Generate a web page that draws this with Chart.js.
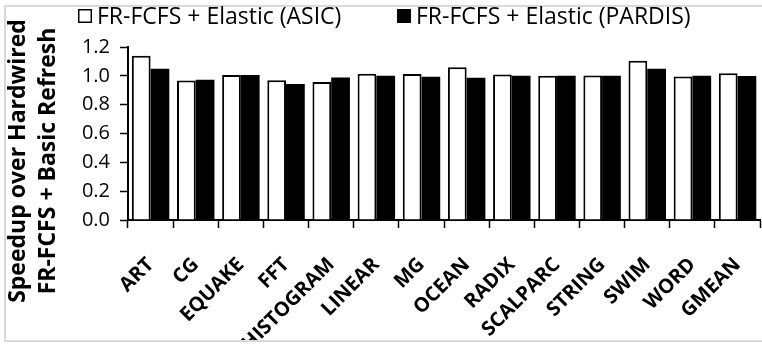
<!DOCTYPE html>
<html>
<head>
<meta charset="utf-8">
<script src="https://cdn.jsdelivr.net/npm/chart.js@4"></script>
<style>
  html, body { margin: 0; padding: 0; background: #fff; overflow: hidden; }
  #wrap { width: 780px; height: 345px; }
</style>
</head>
<body>
<div id="wrap"><canvas id="chart" width="780" height="345"></canvas></div>
<script>
/* ── Data ── */
const categories = ['ART', 'CG', 'EQUAKE', 'FFT', 'HISTOGRAM', 'LINEAR', 'MG', 'OCEAN',
  'RADIX', 'SCALPARC', 'STRING', 'SWIM', 'WORD', 'GMEAN'];
const asicSpeedup   = [1.139, 0.967, 1.005, 0.970, 0.958, 1.014, 1.012, 1.060, 1.009, 1.000, 1.003, 1.104, 0.995, 1.018];
const pardisSpeedup = [1.049, 0.972, 1.005, 0.944, 0.988, 1.000, 0.993, 0.986, 1.000, 1.000, 1.000, 1.049, 1.000, 0.998];
const yTicks = [0, 0.2, 0.4, 0.6, 0.8, 1.0, 1.2];
const seriesNames = ['FR-FCFS + Elastic (ASIC)', 'FR-FCFS + Elastic (PARDIS)'];
const yTitle = ['Speedup over Hardwired', 'FR-FCFS + Basic Refresh'];

const FONT = "'Open Sans', sans-serif";

/* ── Plugins: frame, legend, y-axis title ── */
const framePlugin = {
  id: 'frame',
  beforeDraw(chart) {
    const ctx = chart.ctx;
    ctx.save();
    ctx.fillStyle = '#fff';
    ctx.fillRect(0, 0, chart.width, chart.height);
    ctx.restore();
  },
  afterDraw(chart) {
    // the frame clips whatever hangs below it (long rotated labels)
    const ctx = chart.ctx;
    ctx.save();
    ctx.fillStyle = '#fff';
    ctx.fillRect(0, 341, chart.width, chart.height - 341);
    ctx.strokeStyle = '#d9d9d9';
    ctx.lineWidth = 2;
    ctx.strokeRect(5, 6, chart.width + 10, 335);
    ctx.restore();
  }
};

const legendPlugin = {
  id: 'boxLegend',
  afterDraw(chart) {
    const ctx = chart.ctx;
    const starts = [78, 397];
    ctx.save();
    ctx.font = '23px ' + FONT;
    ctx.textBaseline = 'middle';
    chart.data.datasets.forEach((ds, i) => {
      const x = starts[i];
      ctx.fillStyle = ds.backgroundColor;
      ctx.fillRect(x, 9, 14, 14);
      ctx.strokeStyle = '#000';
      ctx.lineWidth = 1.5;
      ctx.strokeRect(x + 0.75, 9.75, 12.5, 12.5);
      ctx.fillStyle = '#000';
      ctx.fillText(ds.label, x + 19, 17);
    });
    ctx.restore();
  }
};

const yTitlePlugin = {
  id: 'yTitle',
  afterDraw(chart) {
    const ctx = chart.ctx;
    ctx.save();
    ctx.font = 'bold 23px ' + FONT;
    ctx.fillStyle = '#000';
    ctx.textAlign = 'center';
    ctx.textBaseline = 'alphabetic';
    ctx.translate(0, 161);
    ctx.rotate(-Math.PI / 2);
    ctx.fillText(yTitle[0], 0, 25);
    ctx.fillText(yTitle[1], 0, 55);
    ctx.restore();
  }
};

new Chart(document.getElementById('chart'), {
  type: 'bar',
  data: {
    labels: categories,
    datasets: [
      {
        label: seriesNames[0],
        data: asicSpeedup,
        backgroundColor: '#ffffff',
        borderColor: '#000000',
        borderWidth: 2,
      },
      {
        label: seriesNames[1],
        data: pardisSpeedup,
        backgroundColor: '#000000',
        borderColor: '#000000',
        borderWidth: 0,
      }
    ]
  },
  options: {
    responsive: false,
    animation: false,
    events: [],
    layout: { padding: { left: 82, top: 47, right: 13, bottom: 0 } },
    categoryPercentage: 0.83,
    barPercentage: 1.0,
    plugins: {
      legend: { display: false },
      tooltip: { enabled: false },
    },
    scales: {
      x: {
        afterFit: s => { s.height = 125; },
        grid: {
          offset: true,
          drawOnChartArea: false,
          tickLength: 8,
          tickColor: '#000',
          tickWidth: 1.5,
        },
        border: { display: true, color: '#000', width: 2 },
        ticks: {
          minRotation: 45,
          maxRotation: 45,
          autoSkip: false,
          padding: 25,
          color: '#000',
          font: { family: FONT, size: 20, weight: 'bold' },
        }
      },
      y: {
        min: 0,
        max: 1.2,
        afterFit: s => { s.width = 46; },
        afterBuildTicks: s => { s.ticks = yTicks.map(v => ({ value: v })); },
        grid: {
          drawOnChartArea: false,
          tickLength: 8,
          tickColor: '#000',
          tickWidth: 1.5,
        },
        border: { display: true, color: '#000', width: 2 },
        ticks: {
          padding: 10,
          color: '#000',
          font: { family: FONT, size: 20 },
          callback: v => v.toFixed(1),
        }
      }
    }
  },
  plugins: [framePlugin, legendPlugin, yTitlePlugin]
});
</script>
</body>
</html>
